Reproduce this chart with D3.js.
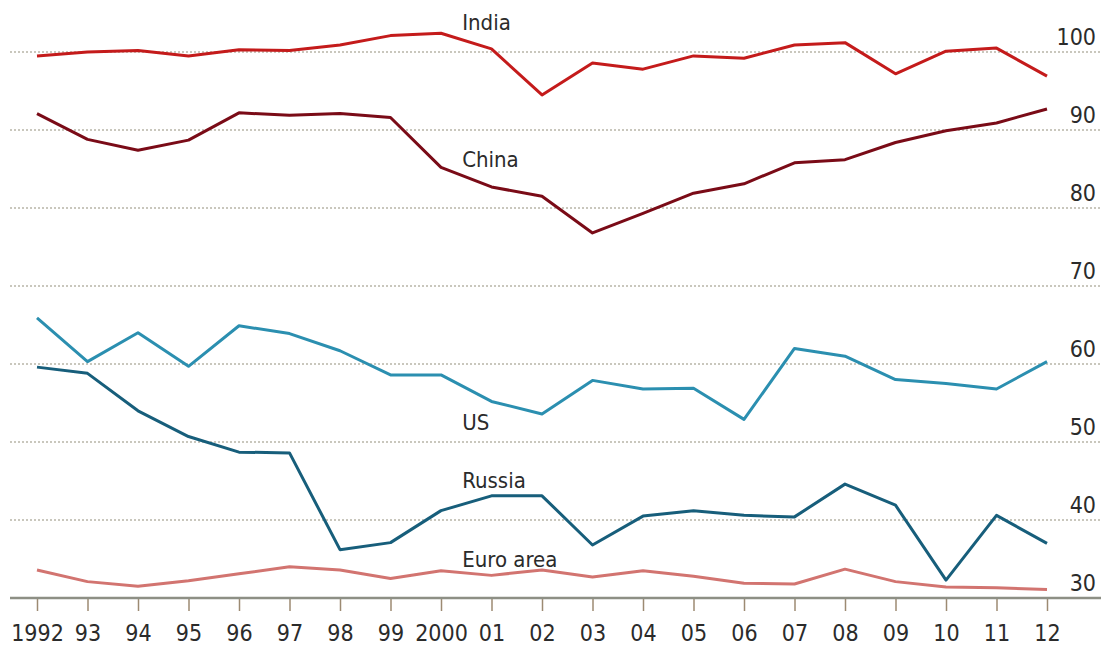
<!DOCTYPE html>
<html>
<head>
<meta charset="utf-8">
<script src="https://cdn.jsdelivr.net/npm/d3@7"></script>
<style>
  body { margin: 0; background: #fff; }
  svg text { font-family: "Liberation Sans Narrow", "DejaVu Sans Condensed", "Liberation Sans", sans-serif; fill: #2b2b2b; }
</style>
</head>
<body>
<svg id="chart" width="1101" height="654"></svg>
<script>
var years = d3.range(1992, 2013);
var yearLabels = ["1992", "93", "94", "95", "96", "97", "98", "99", "2000", "01", "02",
    "03", "04", "05", "06", "07", "08", "09", "10", "11", "12"];
var yTicks = [30, 40, 50, 60, 70, 80, 90, 100];

var india = [99.5, 100.0, 100.2, 99.5, 100.3, 100.2, 100.9, 102.1, 102.4, 100.4, 94.5,
    98.6, 97.8, 99.5, 99.2, 100.9, 101.2, 97.2, 100.1, 100.5, 96.9];
var china = [92.1, 88.8, 87.4, 88.7, 92.2, 91.9, 92.1, 91.6, 85.2, 82.7, 81.5,
    76.8, 79.3, 81.9, 83.1, 85.8, 86.2, 88.4, 89.9, 90.9, 92.7];
var us = [65.9, 60.3, 64.0, 59.7, 64.9, 63.9, 61.7, 58.6, 58.6, 55.2, 53.6,
    57.9, 56.8, 56.9, 52.9, 62.0, 61.0, 58.0, 57.5, 56.8, 60.3];
var russia = [59.6, 58.8, 54.0, 50.7, 48.7, 48.6, 36.2, 37.1, 41.2, 43.1, 43.1,
    36.8, 40.5, 41.2, 40.6, 40.4, 44.6, 41.9, 32.3, 40.6, 37.0];
var euro = [33.6, 32.1, 31.5, 32.2, 33.1, 34.0, 33.6, 32.5, 33.5, 32.9, 33.6,
    32.7, 33.5, 32.8, 31.9, 31.8, 33.7, 32.1, 31.4, 31.3, 31.1];

var seriesNames = ["India", "China", "US", "Russia", "Euro area"];
var seriesValues = [india, china, us, russia, euro];
var seriesColors = ["#c41b1b", "#7a0b17", "#2b8fb0", "#175e7b", "#d27470"];
// where each name sits, in data units (year, value)
var labelPos = [[2000.42, 102.8], [2000.42, 85.3], [2000.42, 51.5], [2000.42, 44.1], [2000.42, 34.0]];

var svg = d3.select("#chart");
var width = 1101, height = 654;
var xScale = d3.scaleLinear().domain([1992, 2012]).range([37, 1047]);
var yScale = d3.scaleLinear().domain([30, 100]).range([598, 52]);

// dotted gridlines
svg.append("g").selectAll("line")
    .data(yTicks.filter(d => d > 30))
    .enter().append("line")
    .attr("x1", 10).attr("x2", width)
    .attr("y1", d => yScale(d)).attr("y2", d => yScale(d))
    .attr("stroke", "#c9c7bd")
    .attr("stroke-width", 2)
    .attr("stroke-dasharray", "2,2");

// right value labels
svg.append("g").selectAll("text")
    .data(yTicks)
    .enter().append("text")
    .attr("x", 1096)
    .attr("y", d => yScale(d) - 7)
    .attr("text-anchor", "end")
    .attr("font-size", 23)
    .text(d => d);

// bottom axis
var xAxis = d3.axisBottom(xScale)
    .tickValues(years)
    .tickSize(13)
    .tickPadding(14)
    .tickFormat((d, i) => yearLabels[i]);
var gx = svg.append("g")
    .attr("transform", "translate(0," + yScale(30) + ")")
    .call(xAxis);
gx.select(".domain").remove();
gx.selectAll(".tick line").attr("stroke", "#9c8a72").attr("stroke-width", 1.5);
gx.selectAll(".tick text")
    .attr("font-size", 23)
    .attr("fill", "#2b2b2b")
    .style("font-family", "'Liberation Sans Narrow', 'DejaVu Sans Condensed', sans-serif");
svg.append("line")
    .attr("x1", 10).attr("x2", width)
    .attr("y1", yScale(30)).attr("y2", yScale(30))
    .attr("stroke", "#8d8f85")
    .attr("stroke-width", 2.5);

var line = d3.line()
    .x((_, i) => xScale(years[i]))
    .y(d => yScale(d));

svg.append("g").selectAll("path")
    .data(seriesValues)
    .enter().append("path")
    .attr("d", d => line(d))
    .attr("fill", "none")
    .attr("stroke", (d, i) => seriesColors[i])
    .attr("stroke-width", 3)
    .attr("stroke-linejoin", "round");

svg.append("g").selectAll("text")
    .data(seriesNames)
    .enter().append("text")
    .attr("x", (d, i) => xScale(labelPos[i][0]))
    .attr("y", (d, i) => yScale(labelPos[i][1]))
    .attr("font-size", 22)
    .text(d => d);
</script>
</body>
</html>
